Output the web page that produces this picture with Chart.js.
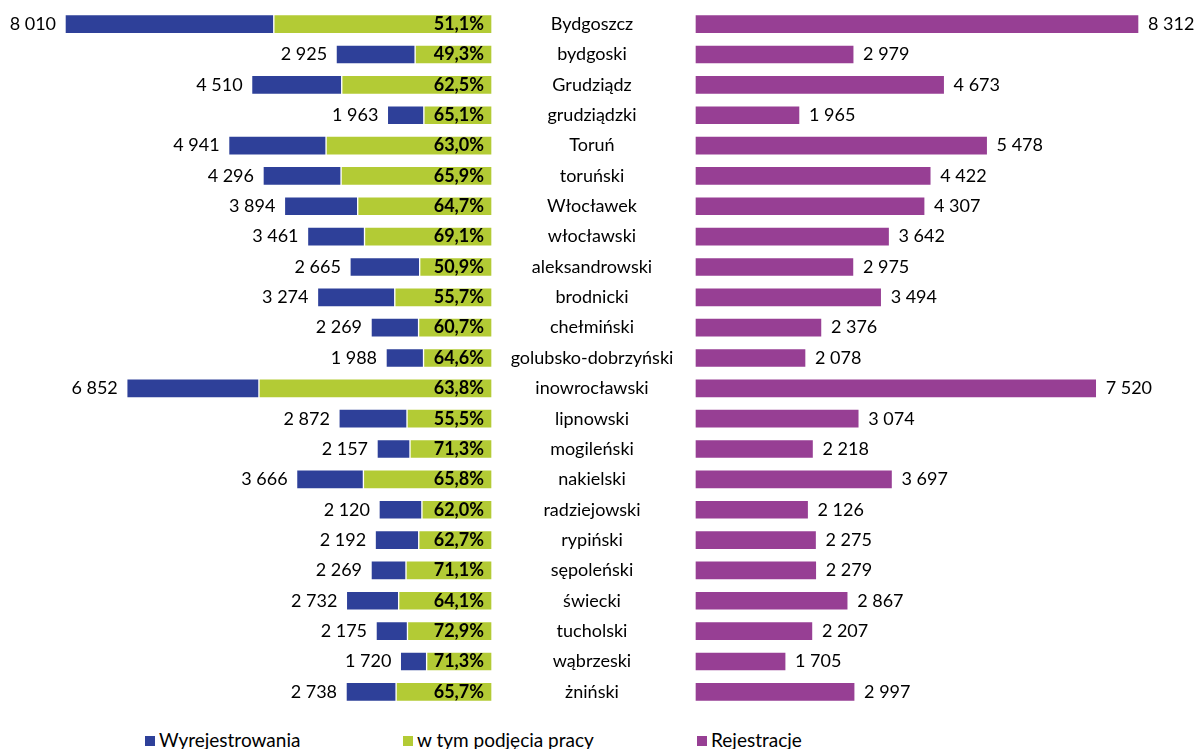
<!DOCTYPE html>
<html lang="pl">
<head>
<meta charset="utf-8">
<title>Wyrejestrowania i rejestracje</title>
<script src="https://cdn.jsdelivr.net/npm/chart.js@4/dist/chart.umd.min.js"></script>
<style>
  html, body { margin:0; padding:0; background:#fff; }
  #wrap { position:relative; width:1194px; height:749px; overflow:hidden; font-family:Lato, sans-serif; }
  #leftBox  { position:absolute; left:0;   top:0; width:695px; height:712px; }
  #rightBox { position:absolute; left:695px; top:0; width:499px; height:712px; }
  .legend { position:absolute; top:730px; font-size:19px; color:#000; white-space:nowrap; line-height:20px; }
  .legend i { display:inline-block; width:10px; height:10px; margin-right:4px; vertical-align:1px; }
</style>
</head>
<body>
<div id="wrap">
  <div id="leftBox"><canvas id="chartLeft"></canvas></div>
  <div id="rightBox"><canvas id="chartRight"></canvas></div>
  <div class="legend" style="left:145px"><i style="background:#2E4099"></i>Wyrejestrowania</div>
  <div class="legend" style="left:403px"><i style="background:#B3CB35"></i>w tym podjęcia pracy</div>
  <div class="legend" style="left:697px"><i style="background:#973F94"></i>Rejestracje</div>
</div>
<script>
/* ---- data ---- */
const districts = ['Bydgoszcz','bydgoski','Grudziądz','grudziądzki','Toruń','toruński','Włocławek','włocławski',
  'aleksandrowski','brodnicki','chełmiński','golubsko-dobrzyński','inowrocławski','lipnowski','mogileński',
  'nakielski','radziejowski','rypiński','sępoleński','świecki','tucholski','wąbrzeski','żniński'];
const wyrejestrowania = [8010,2925,4510,1963,4941,4296,3894,3461,2665,3274,2269,1988,6852,2872,2157,3666,2120,2192,2269,2732,2175,1720,2738];
const podjeciaPct     = [51.1,49.3,62.5,65.1,63.0,65.9,64.7,69.1,50.9,55.7,60.7,64.6,63.8,55.5,71.3,65.8,62.0,62.7,71.1,64.1,72.9,71.3,65.7];
const rejestracje     = [8312,2979,4673,1965,5478,4422,4307,3642,2975,3494,2376,2078,7520,3074,2218,3697,2126,2275,2279,2867,2207,1705,2997];

const BLUE = '#2E4099', GREEN = '#B3CB35', PURPLE = '#973F94';
const FONT = 'Lato, sans-serif';

// stacked pieces of the left bar
const podjecia = wyrejestrowania.map((v, i) => v * podjeciaPct[i] / 100);
const reszta   = wyrejestrowania.map((v, i) => v - podjecia[i]);

const fmtNum = v => String(v).replace(/\B(?=(\d{3})+(?!\d))/g, ' ');
const fmtPct = v => v.toFixed(1).replace('.', ',') + '%';

// labels for the left chart: totals, shares and the district names in the gap
const leftLabels = {
  id: 'leftLabels',
  afterDatasetsDraw(chart){
    const ctx = chart.ctx;
    const yScale = chart.scales.y;
    const green = chart.getDatasetMeta(0).data;
    const blue = chart.getDatasetMeta(1).data;
    const midX = chart.chartArea.right + 100;
    ctx.save();
    ctx.textBaseline = 'middle';
    ctx.fillStyle = '#000';
    blue.forEach((bar, i) => {
      ctx.textAlign = 'right';
      ctx.font = '18px ' + FONT;
      ctx.fillText(fmtNum(wyrejestrowania[i]), bar.x - 9, bar.y);
      ctx.font = 'bold 18px ' + FONT;
      ctx.fillText(fmtPct(podjeciaPct[i]), green[i].base - 8, green[i].y);
    });
    ctx.textAlign = 'center';
    ctx.font = '18px ' + FONT;
    districts.forEach((d, i) => ctx.fillText(d, midX, yScale.getPixelForValue(i)));
    ctx.restore();
  }
};

const rightLabels = {
  id: 'rightLabels',
  afterDatasetsDraw(chart){
    const ctx = chart.ctx;
    ctx.save();
    ctx.textBaseline = 'middle';
    ctx.textAlign = 'left';
    ctx.fillStyle = '#000';
    ctx.font = '18px ' + FONT;
    chart.getDatasetMeta(0).data.forEach((bar, i) => {
      ctx.fillText(fmtNum(rejestracje[i]), bar.x + 9, bar.y);
    });
    ctx.restore();
  }
};

const common = {
  indexAxis: 'y',
  responsive: true,
  maintainAspectRatio: false,
  animation: false,
  plugins: { legend: { display: false }, tooltip: { enabled: false } }
};

new Chart(document.getElementById('chartLeft'), {
  type: 'bar',
  data: {
    labels: districts,
    datasets: [
      { label: 'w tym podjęcia pracy', data: podjecia, backgroundColor: GREEN, borderColor: '#fff', borderWidth: 1, borderSkipped: false, barThickness: 19 },
      { label: 'Wyrejestrowania', data: reszta, backgroundColor: BLUE, borderColor: '#fff', borderWidth: 1, borderSkipped: false, barThickness: 19 }
    ]
  },
  options: Object.assign({}, common, {
    layout: { padding: { top: 9, bottom: 5, left: 0, right: 203 } },
    scales: {
      x: { stacked: true, reverse: true, min: 0, max: 9230, display: false },
      y: { stacked: true, display: false }
    }
  }),
  plugins: [leftLabels]
});

new Chart(document.getElementById('chartRight'), {
  type: 'bar',
  data: {
    labels: districts,
    datasets: [
      { label: 'Rejestracje', data: rejestracje, backgroundColor: PURPLE, borderColor: '#fff', borderWidth: 1, borderSkipped: false, barThickness: 19 }
    ]
  },
  options: Object.assign({}, common, {
    layout: { padding: { top: 9, bottom: 5, left: 0, right: 0 } },
    scales: {
      x: { min: 0, max: 9342, display: false },
      y: { display: false }
    }
  }),
  plugins: [rightLabels]
});
</script>
</body>
</html>
